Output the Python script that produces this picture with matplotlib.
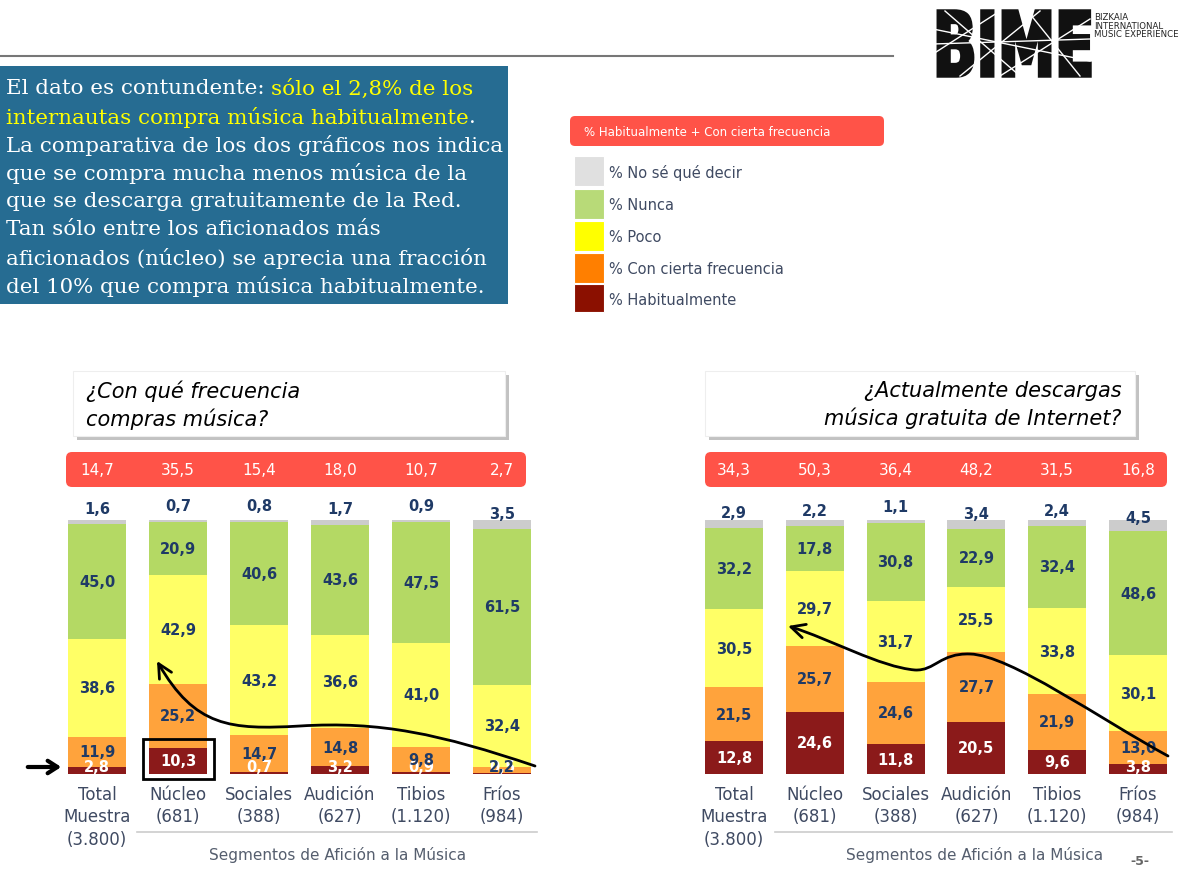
import matplotlib
matplotlib.use('Agg')
import matplotlib.pyplot as plt
from matplotlib.patches import Rectangle, FancyBboxPatch, PathPatch, FancyArrowPatch
from matplotlib.path import Path
from matplotlib.textpath import TextPath
from matplotlib.font_manager import FontProperties
from matplotlib.transforms import blended_transform_factory

# Data
categories = ['Total\nMuestra\n(3.800)', 'Núcleo\n(681)', 'Sociales\n(388)',
              'Audición\n(627)', 'Tibios\n(1.120)', 'Fríos\n(984)']
series_names = ['% Habitualmente', '% Con cierta frecuencia', '% Poco', '% Nunca', '% No sé qué decir']

compra_habitual = [2.8, 10.3, 0.7, 3.2, 0.9, 0.5]
compra_cierta = [11.9, 25.2, 14.7, 14.8, 9.8, 2.2]
compra_poco = [38.6, 42.9, 43.2, 36.6, 41.0, 32.4]
compra_nunca = [45.0, 20.9, 40.6, 43.6, 47.5, 61.5]
compra_nsnc = [1.6, 0.7, 0.8, 1.7, 0.9, 3.5]
compra_total = [14.7, 35.5, 15.4, 18.0, 10.7, 2.7]

descarga_habitual = [12.8, 24.6, 11.8, 20.5, 9.6, 3.8]
descarga_cierta = [21.5, 25.7, 24.6, 27.7, 21.9, 13.0]
descarga_poco = [30.5, 29.7, 31.7, 25.5, 33.8, 30.1]
descarga_nunca = [32.2, 17.8, 30.8, 22.9, 32.4, 48.6]
descarga_nsnc = [2.9, 2.2, 1.1, 3.4, 2.4, 4.5]
descarga_total = [34.3, 50.3, 36.4, 48.2, 31.5, 16.8]

bar_colors = ['#8b1a1a', '#ffa33c', '#ffff66', '#b4d964', '#cccccc']
legend_colors = ['#8b1000', '#ff7f00', '#ffff00', '#b8da78', '#e0e0e0']
label_colors = ['white', '#1f3a66', '#1f3a66', '#1f3a66', '#1f3a66']
NAVY = '#1f3a66'
SLATE = '#3f4a62'
RED = '#ff5348'

W, H = 1181, 878


def fmt(v):
    return f'{v:.1f}'.replace('.', ',')


fig = plt.figure(figsize=(W / 100, H / 100), dpi=100)
bg = fig.add_axes([0, 0, 1, 1])
bg.set_xlim(0, W)
bg.set_ylim(H, 0)
bg.axis('off')

# top rule + page number
bg.plot([0, 893], [57, 57], color='#777777', lw=1.5)
bg.text(1140, 862, '-5-', fontsize=9, fontweight='bold', color='#666666', ha='center', va='center')

# logo
fp = FontProperties(family='DejaVu Sans', weight='bold')
tp = TextPath((0, 0), 'BIME', size=100, prop=fp)
v = tp.vertices.copy()
xmin, ymin = v.min(axis=0)
xmax, ymax = v.max(axis=0)
v[:, 0] = 933 + (v[:, 0] - xmin) / (xmax - xmin) * 157
v[:, 1] = 77 - (v[:, 1] - ymin) / (ymax - ymin) * 65
bg.add_patch(PathPatch(Path(v, tp.codes), fc='#111111', ec='#111111', lw=2.5))
for (x1, y1, x2, y2) in [(933, 30, 1090, 62), (933, 55, 1000, 12), (960, 77, 1040, 12),
                         (1000, 77, 1090, 20), (945, 12, 1020, 77), (1030, 15, 1080, 77),
                         (933, 45, 1090, 40)]:
    bg.plot([x1, x2], [y1, y2], color='white', lw=1.0)
bg.text(1094, 13, 'BIZKAIA\nINTERNATIONAL\nMUSIC EXPERIENCE', fontsize=6.2, color='#222222',
        va='top', ha='left', linespacing=0.95)

# blue comment box
bg.add_patch(Rectangle((0, 67), 508, 238, fc='#266c92', ec='none'))
renderer = fig.canvas.get_renderer()
serif = 'DejaVu Serif'
tsize = 15.4


def width_of(s):
    t = bg.text(0, 0, s, fontsize=tsize, family=serif)
    w = t.get_window_extent(renderer).width
    t.remove()
    return w


space_w = width_of('x x') - width_of('xx')
lines = [
    [('El dato es contundente:', 'white'), ('sólo el 2,8% de los', '#ffff00')],
    [('internautas compra música habitualmente', '#ffff00'), ('.', 'white')],
    [('La comparativa de los dos gráficos nos indica', 'white')],
    [('que se compra mucha menos música de la', 'white')],
    [('que se descarga gratuitamente de la Red.', 'white')],
    [('Tan sólo entre los aficionados más', 'white')],
    [('aficionados (núcleo) se aprecia una fracción', 'white')],
    [('del 10% que compra música habitualmente.', 'white')],
]
for i, runs in enumerate(lines):
    x = 6
    y = 89 + i * 28.2
    for j, (s, c) in enumerate(runs):
        t = bg.text(x, y, s, fontsize=tsize, family=serif, color=c, va='center', ha='left')
        ext = t.get_window_extent(renderer)
        x = ext.x1 + (space_w if j == 0 and runs[0][0].endswith(':') else 0)

# legend
bg.add_patch(FancyBboxPatch((570, 117), 314, 30, boxstyle='round,pad=0,rounding_size=5',
                            fc=RED, ec='none'))
bg.text(584, 132, '% Habitualmente + Con cierta frecuencia', fontsize=8.5, color='white',
        va='center', ha='left')
leg_top = [157, 189.5, 221.5, 253.5, 285]
for k in range(5):
    idx = 4 - k
    bg.add_patch(Rectangle((574, leg_top[k]), 30, 30 if k < 4 else 28,
                           fc=legend_colors[idx], ec='white', lw=0.8))
    bg.text(609, leg_top[k] + 16, series_names[idx], fontsize=10.5, color=SLATE,
            va='center', ha='left')


def question_box(x0, x1, text, align):
    bg.add_patch(Rectangle((x0 + 4, 376), x1 - x0, 65, fc='#9a9a9a', ec='none', alpha=0.6))
    bg.add_patch(Rectangle((x0, 372), x1 - x0, 65, fc='white', ec='#eeeeee', lw=0.8))
    tx = x0 + 13 if align == 'left' else x1 - 13
    bg.text(tx, 405, text, fontsize=15, style='italic', color='black', ha=align,
            va='center', linespacing=1.35)


question_box(73, 505, '¿Con qué frecuencia\ncompras música?', 'left')
question_box(705, 1135, '¿Actualmente descargas\nmúsica gratuita de Internet?', 'right')

# red header strips
for x0, x1 in [(66, 526), (705, 1167)]:
    bg.add_patch(FancyBboxPatch((x0, 453), x1 - x0, 35, boxstyle='round,pad=0,rounding_size=6',
                                fc=RED, ec='none'))

# axis lines and titles under the categories
bg.plot([137, 537], [833, 833], color='#cccccc', lw=1.2)
bg.plot([775, 1172], [833, 833], color='#cccccc', lw=1.2)
bg.text(338, 855, 'Segmentos de Afición a la Música', fontsize=11, color='#555e6e', ha='center', va='center')
bg.text(975, 855, 'Segmentos de Afición a la Música', fontsize=11, color='#555e6e', ha='center', va='center')


def stacked(ax, series, totals):
    xs = list(range(len(categories)))
    bottoms = [0.0] * len(xs)
    for s, vals in enumerate(series):
        ax.bar(xs, vals, width=0.72, bottom=bottoms, color=bar_colors[s], edgecolor='none')
        for i, val in enumerate(vals):
            if s < 4:
                yc = max(bottoms[i] + val / 2, 2.8)
                ax.text(xs[i], yc, fmt(val), color=label_colors[s], fontsize=10.5,
                        fontweight='bold', ha='center', va='center')
            else:
                ax.text(xs[i], bottoms[i] + val - val * 1.2 + 6.5, fmt(val), color=NAVY,
                        fontsize=10.5, fontweight='bold', ha='center', va='center')
        bottoms = [b + val for b, val in zip(bottoms, vals)]
    tr = blended_transform_factory(ax.transData, ax.transAxes)
    for i, t in enumerate(totals):
        ax.text(xs[i], 1.2, fmt(t), transform=tr, color='white', fontsize=11,
                ha='center', va='center')
    ax.set_xlim(-0.5, len(xs) - 0.5)
    ax.set_ylim(0, 100)
    ax.set_xticks(xs)
    ax.set_xticklabels(categories, fontsize=12, color=SLATE, linespacing=1.3, va='top')
    ax.tick_params(axis='x', length=0, pad=8)
    ax.set_yticks([])
    for sp in ax.spines.values():
        sp.set_visible(False)
    ax.patch.set_alpha(0)


axh = 254 / H
ax1 = fig.add_axes([56.5 / W, 1 - 775 / H, 486 / W, axh])
stacked(ax1, [compra_habitual, compra_cierta, compra_poco, compra_nunca, compra_nsnc], compra_total)
ax2 = fig.add_axes([693.6 / W, 1 - 775 / H, 484.8 / W, axh])
stacked(ax2, [descarga_habitual, descarga_cierta, descarga_poco, descarga_nunca, descarga_nsnc], descarga_total)

# highlight box around Núcleo "habitualmente"
ax1.add_patch(Rectangle((1 - 0.43, -2), 0.87, compra_habitual[1] + 5.6, fill=False,
                        ec='black', lw=2, clip_on=False, zorder=5))

# hand-drawn arrows on top of everything
ov = fig.add_axes([0, 0, 1, 1])
ov.set_xlim(0, W)
ov.set_ylim(H, 0)
ov.axis('off')
ov.patch.set_alpha(0)

ov.annotate('', xy=(64, 768), xytext=(25, 768),
            arrowprops=dict(arrowstyle='->,head_length=0.7,head_width=0.45', lw=3, color='black'))

C = Path.CURVE4
left_path = Path([(535, 767), (440, 735), (380, 722), (300, 727),
                  (230, 731), (195, 728), (157, 662)],
                 [Path.MOVETO, C, C, C, C, C, C])
ov.add_patch(FancyArrowPatch(path=left_path, arrowstyle='->,head_length=10,head_width=5',
                             mutation_scale=1, lw=2, color='black'))
right_path = Path([(1168, 757), (1100, 720), (1010, 656), (970, 655),
                   (940, 654), (935, 672), (915, 671),
                   (880, 668), (830, 640), (788, 627)],
                  [Path.MOVETO, C, C, C, C, C, C, C, C, C])
ov.add_patch(FancyArrowPatch(path=right_path, arrowstyle='->,head_length=10,head_width=5',
                             mutation_scale=1, lw=2, color='black'))

fig.savefig('out.png', dpi=100)
